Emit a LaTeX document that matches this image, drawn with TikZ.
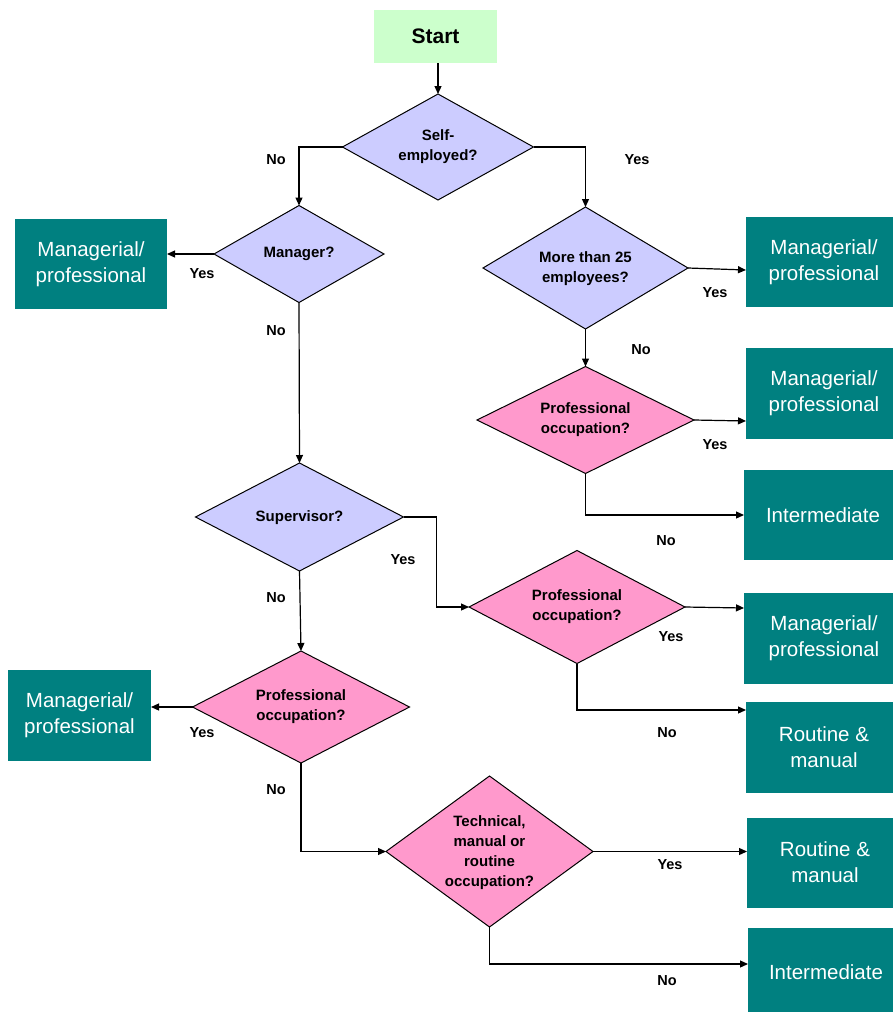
\documentclass[tikz,border=0pt]{standalone}
\usepackage{fontspec}
\setmainfont{Liberation Sans}
\usetikzlibrary{shapes.geometric,arrows.meta,calc}
\definecolor{startgreen}{HTML}{CCFFCC}
\definecolor{lav}{HTML}{CCCCFF}
\definecolor{pinkd}{HTML}{FF99CC}
\definecolor{teal8}{HTML}{008080}
\begin{document}
\begin{tikzpicture}[x=1pt,y=-1pt,
  dia/.style={diamond,draw=black,line width=1pt,inner sep=0pt,outer sep=0pt},
  qlav/.style={dia,fill=lav},
  qpink/.style={dia,fill=pinkd},
  dtext/.style={align=center,font=\fontsize{15}{20}\selectfont\bfseries,inner sep=0pt},
  outbox/.style={rectangle,fill=teal8,inner sep=0pt,outer sep=0pt},
  btext/.style={align=center,text=white,font=\fontsize{20.5}{26}\selectfont,inner sep=0pt},
  lbl/.style={font=\fontsize{14.5}{17}\selectfont\bfseries,inner sep=0pt},
  arr/.style={-{Triangle[length=8pt,width=7pt]},line width=1.2pt},
  ln/.style={line width=1.2pt}]
\useasboundingbox (0,0) rectangle (893,1012);
% start
\node[fill=startgreen,minimum width=123pt,minimum height=53pt,inner sep=0pt,font=\fontsize{21}{25}\selectfont\bfseries] (start) at (435.5,36.5) {Start};
% diamonds
\node[qlav,minimum width=191pt,minimum height=106pt] (d1) at (438,147) {};
\node[dtext] (d1t) at (438,147) {Self-\\employed?};
\node[qlav,minimum width=170pt,minimum height=97pt] (d2) at (299,254) {};
\node[dtext] (d2t) at (299,254) {Manager?};
\node[qlav,minimum width=205pt,minimum height=122pt] (d3) at (585.5,268) {};
\node[dtext] (d3t) at (585.5,269) {More than 25\\employees?};
\node[qpink,minimum width=217pt,minimum height=107pt] (d4) at (585.5,420) {};
\node[dtext] (d4t) at (585.5,419.5) {Professional\\occupation?};
\node[qlav,minimum width=208pt,minimum height=108pt] (d5) at (299.5,517) {};
\node[dtext] (d5t) at (299.5,518) {Supervisor?};
\node[qpink,minimum width=216pt,minimum height=113pt] (d6) at (577,607) {};
\node[dtext] (d6t) at (577,607) {Professional\\occupation?};
\node[qpink,minimum width=217pt,minimum height=112pt] (d7) at (301,707) {};
\node[dtext] (d7t) at (301,707) {Professional\\occupation?};
\node[qpink,minimum width=207pt,minimum height=151pt] (d8) at (489.5,851.5) {};
\node[dtext] (d8t) at (489.5,853) {Technical,\\manual or\\routine\\occupation?};
% outcome boxes
\node[outbox,minimum width=152pt,minimum height=90pt] (b1) at (91,264) {};
\node[btext] (b1t) at (91,264) {Managerial/\\professional};
\node[outbox,minimum width=157pt,minimum height=90pt] (b2) at (824.5,262) {};
\node[btext] (b2t) at (824,262) {Managerial/\\professional};
\node[outbox,minimum width=157pt,minimum height=91pt] (b3) at (824.5,393.5) {};
\node[btext] (b3t) at (824,393.5) {Managerial/\\professional};
\node[outbox,minimum width=159pt,minimum height=90pt] (b4) at (823.5,515) {};
\node[btext] (b4t) at (823,515) {Intermediate};
\node[outbox,minimum width=159pt,minimum height=91pt] (b5) at (823.5,638.5) {};
\node[btext] (b5t) at (824,638.5) {Managerial/\\professional};
\node[outbox,minimum width=157pt,minimum height=91pt] (b6) at (824.5,747.5) {};
\node[btext] (b6t) at (824,747.5) {Routine \&\\manual};
\node[outbox,minimum width=143pt,minimum height=91pt] (b7) at (79.5,715.5) {};
\node[btext] (b7t) at (79.5,715.5) {Managerial/\\professional};
\node[outbox,minimum width=156pt,minimum height=90pt] (b8) at (825,863) {};
\node[btext] (b8t) at (825,862) {Routine \&\\manual};
\node[outbox,minimum width=155pt,minimum height=90pt] (b9) at (825.5,973) {};
\node[btext] (b9t) at (826,972) {Intermediate};
% connectors
\draw[arr] (start.south -| d1.north) -- (d1.north);
\draw[arr] (d1.west) -| (d2.north);
\draw[arr] (d1.east) -| (d3.north);
\draw[arr] (d2.west) -- (d2.west -| b1.east);
\draw[arr] (d3.east) -- ([yshift=-8pt]b2.west);
\draw[arr] (d3.south) -- (d4.north);
\draw[arr] (d4.east) -- ([yshift=-27.5pt]b3.west);
\draw[arr] (d4.south) |- (b4.west);
\draw[arr] (d2.south) -- (d5.north);
\draw[arr] (d5.east) -- ++(33,0) |- (d6.west);
\draw[arr] (d5.south) -- (d7.north);
\draw[arr] (d6.east) -- ([yshift=30.5pt]b5.west);
\draw[arr] (d6.south) |- ([yshift=37.5pt]b6.west);
\draw[arr] (d7.west) -- (d7.west -| b7.east);
\draw[arr] (d7.south) |- (d8.west);
\draw[arr] (d8.east) -- (d8.east -| b8.west);
\draw[arr] (d8.south) |- ([yshift=9pt]b9.west);
% branch labels
\node[lbl] (l1) at (276,160) {No};
\node[lbl] (l2) at (637,160) {Yes};
\node[lbl] (l3) at (202,274) {Yes};
\node[lbl] (l4) at (715,293) {Yes};
\node[lbl] (l5) at (641,350) {No};
\node[lbl] (l6) at (276,331) {No};
\node[lbl] (l7) at (715,445) {Yes};
\node[lbl] (l8) at (666,541) {No};
\node[lbl] (l9) at (403,560) {Yes};
\node[lbl] (l10) at (276,598) {No};
\node[lbl] (l11) at (671,637) {Yes};
\node[lbl] (l12) at (667,733) {No};
\node[lbl] (l13) at (202,733) {Yes};
\node[lbl] (l14) at (276,790) {No};
\node[lbl] (l15) at (670,865) {Yes};
\node[lbl] (l16) at (667,981) {No};
\end{tikzpicture}
\end{document}
